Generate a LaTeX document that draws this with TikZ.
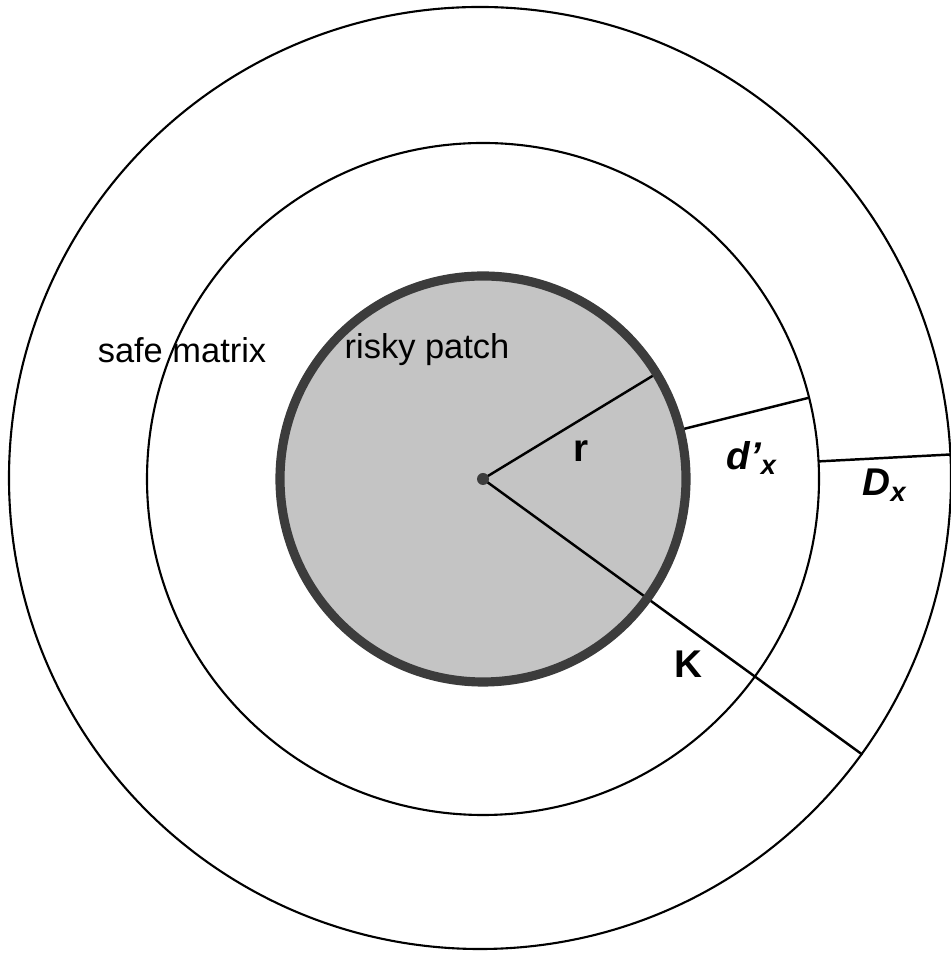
\documentclass[tikz,border=0pt]{standalone}
\usepackage{fontspec}
\setmainfont{Liberation Sans}
\setsansfont{Liberation Sans}
\usepackage{tikz}
\definecolor{PatchGray}{RGB}{196,196,196}
\definecolor{RimGray}{RGB}{60,60,60}

\begin{document}
\begin{tikzpicture}[
      ring/.style={draw=black, line width=0.6pt},
      radial/.style={draw=black, line width=0.7pt},
      lbl/.style={font=\fontsize{9.8}{11}\selectfont, inner sep=0pt},
      sym/.style={font=\fontsize{11}{13}\selectfont\bfseries, inner sep=0pt}
    ]
    \useasboundingbox (-4.83,-4.75) rectangle (4.67,4.79);

    \coordinate (c)  at (0,0);
    \coordinate (oc) at (-0.03,0.01);

    % rings
    \draw[ring] (oc) circle (4.71);
    \draw[ring] (c) circle (3.36);
    \fill[PatchGray] (c) circle (2.03);

    % radii
    \coordinate (rEnd) at (31.3:2.03);
    \coordinate (kEnd) at (-36:4.69);
    \coordinate (dIn)  at (14:2.03);
    \coordinate (dOut) at (14:3.36);
    \coordinate (DIn)  at (3:3.36);
    \coordinate (DOut) at (3:4.72);
    \draw[radial] (c) -- (rEnd);
    \draw[radial] (c) -- (kEnd);
    \draw[radial] (dIn) -- (dOut);
    \draw[radial] (DIn) -- (DOut);

    \draw[RimGray, line width=2.6pt] (c) circle (2.03);
    \fill[RimGray] (c) circle (0.06);

    \node[lbl] (safe)  at (-3.01,1.29) {safe matrix};
    \node[lbl] (risky) at (-0.56,1.29) {risky patch};

    \node[sym] (rlab) at (0.98,0.28)  {r};
    \node[sym] (klab) at (2.05,-1.85) {K};
    \node[sym] (dlab) at (2.69,0.21)  {\itshape d'\textsubscript{x}};
    \node[sym] (Dlab) at (4.02,-0.06) {\itshape D\textsubscript{x}};
  \end{tikzpicture}
\end{document}
